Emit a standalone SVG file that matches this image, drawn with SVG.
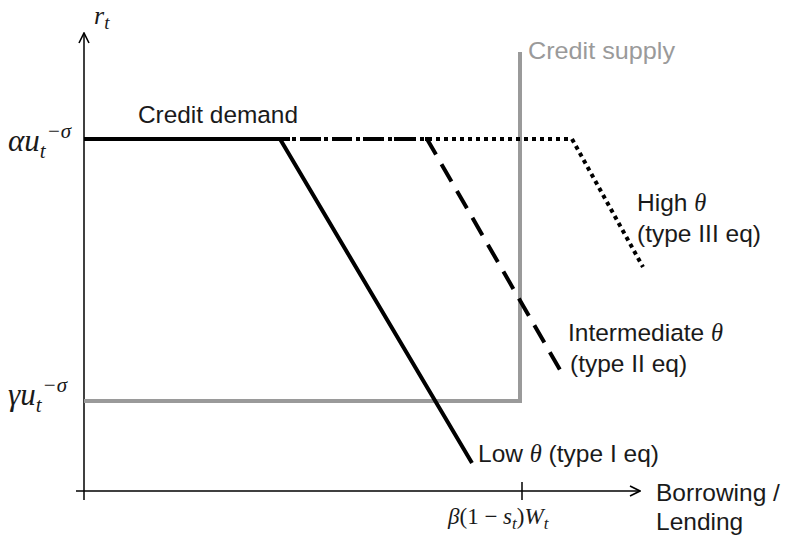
<svg xmlns="http://www.w3.org/2000/svg" width="788" height="537" viewBox="0 0 788 537">
<defs>
<marker id="arr" viewBox="0 0 12 12" refX="11" refY="6" markerWidth="12" markerHeight="12" markerUnits="userSpaceOnUse" orient="auto">
<path d="M1,1 L11,6 L1,11" fill="none" stroke="#000" stroke-width="1.6"/>
</marker>
<style>
.lbl{font-family:"Liberation Sans",Arial,sans-serif;font-size:24.5px;fill:#1a1a1a}
.gry{fill:#9a9a9a}
.m{font-family:"Liberation Serif","Times New Roman",serif;font-style:italic;fill:#1a1a1a}
.mu{font-family:"Liberation Serif","Times New Roman",serif;font-style:normal;fill:#1a1a1a}
.ax{stroke:#000;stroke-width:1.5;fill:none}
.cur{fill:none;stroke:#000;stroke-width:4}
</style>
</defs>
<rect width="788" height="537" fill="#fff"/>
<g id="axes">
<line class="ax" x1="84" y1="500" x2="84" y2="33" marker-end="url(#arr)"/>
<line class="ax" x1="76" y1="491" x2="640" y2="491" marker-end="url(#arr)"/>
<line class="ax" x1="522" y1="482" x2="522" y2="500"/>
</g>
<g id="connectors">
<path id="supply" d="M84,401 H520 V52" fill="none" stroke="#9a9a9a" stroke-width="4"/>
<path id="high" class="cur" d="M84,139 H572 L643,267" stroke-dasharray="4,4"/>
<path id="intermediate" class="cur" d="M84,139 H427 L563,375" stroke-dasharray="20,11"/>
<path id="low" class="cur" d="M84,139 H280 L472,463"/>
</g>
<g id="labels">
<text class="m" x="94" y="24" font-size="26">r<tspan font-size="19" dy="5">t</tspan></text>
<text class="m" x="8" y="151" font-size="31">αu<tspan font-size="21" dy="7">t</tspan><tspan font-size="21" dy="-20" dx="1">−σ</tspan></text>
<text class="m" x="8" y="405" font-size="31">γu<tspan font-size="21" dy="7">t</tspan><tspan font-size="21" dy="-20" dx="1">−σ</tspan></text>
<text class="lbl" x="138" y="123" textLength="160" lengthAdjust="spacingAndGlyphs">Credit demand</text>
<text class="lbl gry" x="528" y="59" textLength="147" lengthAdjust="spacingAndGlyphs">Credit supply</text>
<text class="lbl" x="637" y="211">High <tspan class="m">θ</tspan></text>
<text class="lbl" x="637" y="242">(type III eq)</text>
<text class="lbl" x="568" y="341">Intermediate <tspan class="m">θ</tspan></text>
<text class="lbl" x="570" y="372">(type II eq)</text>
<text class="lbl" x="478" y="462">Low <tspan class="m">θ</tspan> (type I eq)</text>
<text class="lbl" x="656" y="501">Borrowing /</text>
<text class="lbl" x="656" y="530">Lending</text>
<text class="m" x="448" y="524" font-size="23">β<tspan class="mu">(1 − </tspan>s<tspan font-size="17" dy="5">t</tspan><tspan class="mu" dy="-5">)</tspan>W<tspan font-size="17" dy="5">t</tspan></text>
</g>
</svg>
